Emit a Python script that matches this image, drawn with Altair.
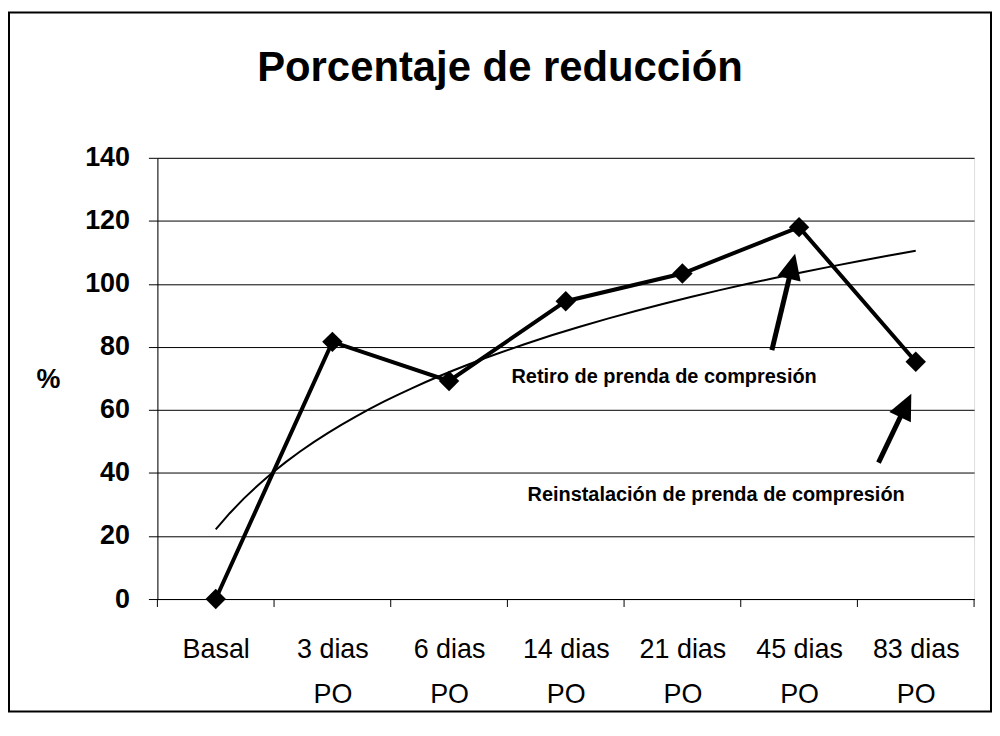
import json
import altair as alt
import pandas as pd

FONT = "Liberation Sans"

# ---- data ----
categories = ["Basal", "3 dias PO", "6 dias PO", "14 dias PO", "21 dias PO", "45 dias PO", "83 dias PO"]
cat_index = [1, 2, 3, 4, 5, 6, 7]
values = [0, 81.6, 69.2, 94.5, 103.3, 118.0, 75.3]
y_ticks = [0, 20, 40, 60, 80, 100, 120, 140]
band_edges = [0.5, 1.5, 2.5, 3.5, 4.5, 5.5, 6.5, 7.5]

note_text = ["Retiro de  prenda de compresión", "Reinstalación de prenda de compresión"]
note_x = [4.843, 5.289]
note_y = [68.6, 31.0]

arrow_tail_x = [5.767, 6.681]
arrow_tail_y = [79.0, 43.3]
arrow_neck_x = [5.938, 6.911]
arrow_neck_y = [105.3, 61.1]
arrow_tip_x = [5.966, 6.962]
arrow_tip_y = [109.6, 65.1]
arrow_angle = [13.5, 25.6]

df = pd.DataFrame({"cat": categories, "idx": cat_index, "val": values})
edges = pd.DataFrame({"edge": band_edges})
notes = pd.DataFrame({"x": note_x, "y": note_y, "text": note_text})
arrows = pd.DataFrame({
    "tx": arrow_tail_x, "ty": arrow_tail_y,
    "nx": arrow_neck_x, "ny": arrow_neck_y,
    "px": arrow_tip_x, "py": arrow_tip_y,
    "ang": arrow_angle,
})

# multi-line tick labels ("3 dias" / "PO")
label_lines = [c.replace(" PO", "\nPO").split("\n") for c in categories]
label_expr = json.dumps(label_lines, ensure_ascii=False) + "[datum.value - 1]"

yscale = alt.Scale(domain=[0, 140], nice=False, zero=True)
xscale = alt.Scale(domain=[0.5, 7.5], nice=False, zero=False)

xaxis = alt.Axis(
    title=None, values=cat_index, labelExpr=label_expr, labelAngle=0,
    labelFontSize=27, labelFont=FONT, labelColor="black", labelPadding=38,
    labelLineHeight=45, labelBaseline="top", ticks=False, tickSize=0,
    domainColor="black", domainWidth=1, labelOverlap=False, grid=False,
    labelFlush=False,
)
yaxis = alt.Axis(
    values=y_ticks, title="%", titleAngle=0, titleX=-110, titleY=223,
    titleAlign="center", titleBaseline="middle", titleFontSize=27,
    titleFont=FONT, titleFontWeight="bold", titleColor="black",
    labelFontSize=27, labelFontWeight="bold", labelFont=FONT,
    labelColor="black", labelPadding=19, tickSize=9, tickColor="black",
    domainColor="black", gridColor="black", gridOpacity=1, gridWidth=1,
)


def X(field):
    return alt.X(field, type="quantitative", scale=xscale, axis=xaxis)


def Y(field):
    return alt.Y(field, type="quantitative", scale=yscale, axis=yaxis)


line = alt.Chart(df).mark_line(color="black", strokeWidth=4).encode(
    x=X("idx"), y=Y("val")
)
pts = alt.Chart(df).mark_point(
    shape="diamond", filled=True, color="black", size=420, opacity=1
).encode(x=X("idx"), y=Y("val"))

trend = alt.Chart(df).transform_regression(
    "idx", "val", method="log", extent=[1, 7]
).mark_line(color="black", strokeWidth=2).encode(x=X("idx"), y=Y("val"))

ticks = alt.Chart(edges).mark_rule(color="black", strokeWidth=1).encode(
    x=X("edge"), y=alt.value(443), y2=alt.value(451)
)

note_marks = alt.Chart(notes).mark_text(
    font=FONT, fontSize=20, fontWeight="bold", color="black",
    align="center", baseline="alphabetic",
).encode(x=X("x"), y=Y("y"), text="text:N")

shafts = alt.Chart(arrows).mark_rule(color="black", strokeWidth=5).encode(
    x=X("tx"), y=Y("ty"), x2="nx:Q", y2="ny:Q",
)
heads = alt.Chart(arrows).mark_point(
    shape="M0,0L0.46,1L-0.46,1Z", filled=True, color="black",
    size=2704, opacity=1,
).encode(x=X("px"), y=Y("py"), angle=alt.Angle("ang:Q", scale=None))

frame = alt.Chart(alt.Data(values=[{}])).mark_rect(
    fillOpacity=0, stroke="black", strokeWidth=2
).encode(
    x=alt.value(-149), x2=alt.value(837), y=alt.value(-146), y2=alt.value(556)
)

chart = alt.layer(
    trend, line, pts, ticks, shafts, heads, note_marks, frame
).properties(
    width=820, height=443,
    title=alt.Title(
        "Porcentaje de reducción", fontSize=42, font=FONT, fontWeight="bold",
        color="black", anchor="middle", dx=-66, offset=0, dy=112,
        baseline="alphabetic",
    ),
    padding={"left": 150, "top": 149, "right": 18, "bottom": 115},
    autosize=alt.AutoSizeParams(type="none"),
).configure_view(stroke="black", strokeWidth=1).configure(background="white")

chart.save("out.html", embed_options={"renderer": "svg", "actions": False})
